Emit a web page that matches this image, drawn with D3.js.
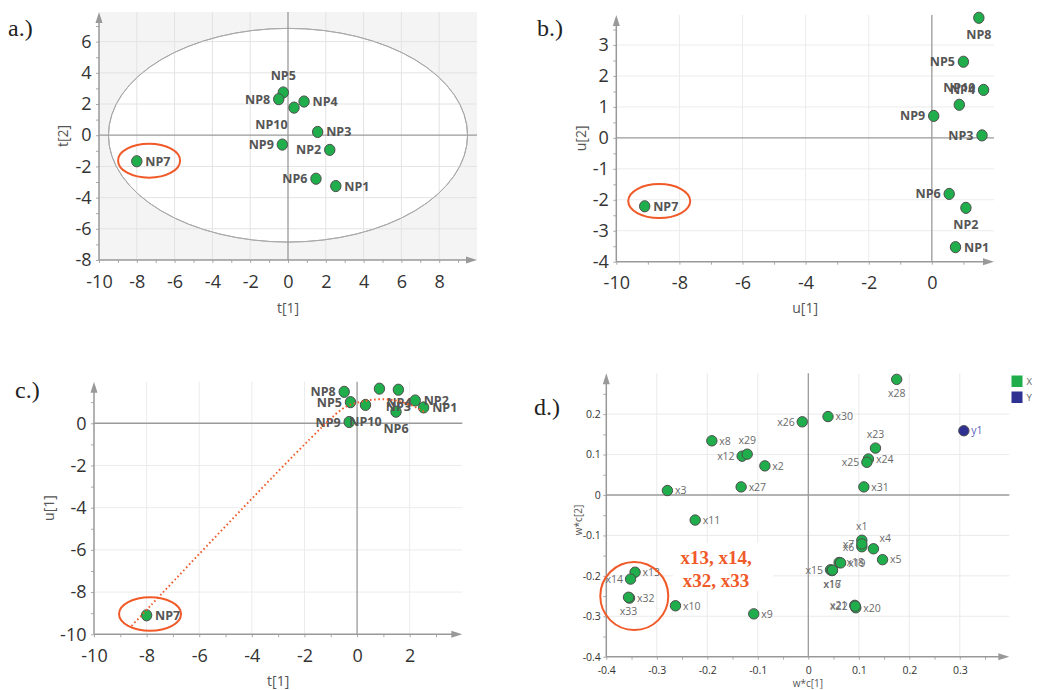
<!DOCTYPE html>
<html><head><meta charset="utf-8">
<script src="https://cdn.jsdelivr.net/npm/d3@7"></script>
<style>
body{margin:0;background:#fff;}
svg{display:block;}
</style></head><body>
<svg id="chart" width="1037" height="690"></svg>
<script>
// ---------- DATA ----------
const samples = ["NP1","NP2","NP3","NP4","NP5","NP6","NP7","NP8","NP9","NP10"];
const t1 = [2.53, 2.21, 1.57, 0.85, -0.25, 1.48, -8.00, -0.49, -0.30, 0.32];
const t2 = [-3.26, -0.94, 0.21, 2.16, 2.74, -2.79, -1.67, 2.31, -0.60, 1.77];
const u1 = [0.75, 1.08, 1.59, 1.64, 1.00, 0.55, -9.10, 1.49, 0.06, 0.87];
const u2 = [-3.53, -2.26, 0.08, 1.55, 2.46, -1.81, -2.21, 3.88, 0.71, 1.07];
const aLabelPos = ["R","L","R","R","T","L","R","L","L","BL"];
const bLabelPos = ["R","B","L","L","L","L","R","B","L","T"];
const cLabelPos = ["R","R","B","BR","L","B","R","L","L","B"];
const hotellingRx = 9.5, hotellingRy = 6.85;   // ellipse of panel a (t units)
// fitted trend of panel c (t[1], u[1])
const trendT = [-8.57, -0.70, -0.27, 0.10, 0.50, 1.00, 1.50, 2.00, 2.55];
const trendU = [-9.60, 0.55, 0.87, 1.00, 1.10, 1.14, 1.07, 0.88, 0.55];

const aXTicks = [-10,-8,-6,-4,-2,0,2,4,6,8];
const aYTicks = [-8,-6,-4,-2,0,2,4,6];
const bXTicks = [-10,-8,-6,-4,-2,0];
const bYTicks = [-4,-3,-2,-1,0,1,2,3];
const cXTicks = [-10,-8,-6,-4,-2,0,2];
const cYTicks = [-10,-8,-6,-4,-2,0];
const dXTicks = [-0.4,-0.3,-0.2,-0.1,0,0.1,0.2,0.3];
const dYTicks = [-0.4,-0.3,-0.2,-0.1,0,0.1,0.2];

const xVars = ["x1","x2","x3","x4","x5","x6","x7","x8","x9","x10","x11","x12","x13","x14","x15","x16","x17","x18","x19","x20","x21","x22","x23","x24","x25","x26","x27","x28","x29","x30","x31","x32","x33"];
const wc1 = [0.106,-0.086,-0.279,0.129,0.147,0.106,0.106,-0.191,-0.108,-0.263,-0.224,-0.131,-0.343,-0.352,0.044,0.047,0.048,0.061,0.064,0.094,0.092,0.093,0.133,0.119,0.116,-0.012,-0.133,0.175,-0.121,0.039,0.110,-0.354,-0.356];
const wc2 = [-0.112,0.072,0.011,-0.133,-0.160,-0.128,-0.121,0.134,-0.294,-0.274,-0.062,0.096,-0.191,-0.208,-0.185,-0.187,-0.186,-0.167,-0.168,-0.279,-0.273,-0.275,0.116,0.089,0.081,0.181,0.020,0.286,0.101,0.194,0.020,-0.255,-0.253];
const dLabelPos = ["T","R","R","TR","R","L","L","R","R","R","R","L","R","L","L","B","B","R","R","R","L","L","T","R","L","L","R","B","T","R","R","R","B"];
const yVars = ["y1"];
const yc1 = [0.308];
const yc2 = [0.159];
const legendItems = ["X","Y"];
const highlightText = ["x13, x14,", "x32, x33"];

// ---------- STYLE ----------
const GREEN = "#1fae4b", BLUE = "#2e3192", RED = "#f05a28";
const svg = d3.select("#chart");
svg.append("rect").attr("width",1037).attr("height",690).attr("fill","#fff");

const fmt = v => String(+v.toFixed(2));

function panel(o) {
  const x = d3.scaleLinear().domain(o.xd).range([o.L, o.R]);
  const y = d3.scaleLinear().domain(o.yd).range([o.B, o.T]);
  const g = svg.append("g");
  if (o.bg) g.append("rect").attr("x",o.L).attr("y",o.T).attr("width",o.R-o.L).attr("height",o.B-o.T).attr("fill",o.bg);
  if (o.ell) g.append("ellipse").attr("cx",x(0)).attr("cy",y(0))
      .attr("rx",x(o.ell[0])-x(0)).attr("ry",y(0)-y(o.ell[1]))
      .attr("fill","#fff").attr("stroke","#aaa").attr("stroke-width",1);
  // grid
  g.selectAll(null).data(o.xGrid).join("line")
    .attr("x1",d=>x(d)).attr("x2",d=>x(d)).attr("y1",o.T).attr("y2",o.B)
    .attr("stroke",o.gridColor||"#e6e6e6").attr("stroke-width",1);
  g.selectAll(null).data(o.yGrid).join("line")
    .attr("y1",d=>y(d)).attr("y2",d=>y(d)).attr("x1",o.L).attr("x2",o.R)
    .attr("stroke",o.gridColor||"#e6e6e6").attr("stroke-width",1);
  if (o.ell) g.append("ellipse").attr("cx",x(0)).attr("cy",y(0))
      .attr("rx",x(o.ell[0])-x(0)).attr("ry",y(0)-y(o.ell[1]))
      .attr("fill","none").attr("stroke","#a8a8a8").attr("stroke-width",1);
  // zero lines
  g.append("line").attr("x1",x(0)).attr("x2",x(0)).attr("y1",o.T).attr("y2",o.B).attr("stroke","#9a9a9a").attr("stroke-width",1.3);
  g.append("line").attr("y1",y(0)).attr("y2",y(0)).attr("x1",o.L).attr("x2",o.R).attr("stroke","#9a9a9a").attr("stroke-width",1.3);
  // axes
  const styleAxis = (sel, fs) => {
    sel.select(".domain").remove();
    sel.selectAll(".tick line").attr("stroke","#aaa");
    sel.selectAll(".tick text").attr("fill","#333").style("font-family","'Open Sans', sans-serif").style("font-size",fs+"px");
  };
  const xa = g.append("g").attr("transform",`translate(0,${o.B})`)
    .call(d3.axisBottom(x).tickValues(o.xTicks).tickSize(3).tickPadding(o.xPad).tickFormat(fmt));
  styleAxis(xa, o.fs);
  const ya = g.append("g").attr("transform",`translate(${o.L},0)`)
    .call(d3.axisLeft(y).tickValues(o.yTicks).tickSize(3).tickPadding(o.yPad).tickFormat(fmt));
  styleAxis(ya, o.fs);
  const xm = g.append("g").attr("transform",`translate(0,${o.B})`)
    .call(d3.axisBottom(x).tickValues(o.xMinor).tickSize(3).tickFormat(""));
  styleAxis(xm, o.fs);
  const ym = g.append("g").attr("transform",`translate(${o.L},0)`)
    .call(d3.axisLeft(y).tickValues(o.yMinor).tickSize(3).tickFormat(""));
  styleAxis(ym, o.fs);
  // axis lines with arrows
  g.append("line").attr("x1",o.L).attr("x2",o.R-6).attr("y1",o.B).attr("y2",o.B).attr("stroke","#999").attr("stroke-width",1.5);
  g.append("line").attr("x1",o.L).attr("x2",o.L).attr("y1",o.B).attr("y2",o.T+6).attr("stroke","#999").attr("stroke-width",1.5);
  g.append("path").attr("d",`M${o.R},${o.B} L${o.R-11},${o.B-3.5} L${o.R-11},${o.B+3.5} Z`).attr("fill","#999");
  g.append("path").attr("d",`M${o.L},${o.T} L${o.L-3.5},${o.T+11} L${o.L+3.5},${o.T+11} Z`).attr("fill","#999");
  // titles
  g.append("text").attr("x",(o.L+o.R)/2 + (o.xtDx||0)).attr("y",o.xtY).attr("text-anchor","middle")
    .attr("fill","#555").style("font-family","'Open Sans', sans-serif").style("font-size",o.tfs+"px").text(o.xTitle);
  g.append("text").attr("transform",`translate(${o.ytX},${(o.T+o.B)/2 + (o.ytDy||0)}) rotate(-90)`).attr("text-anchor","middle")
    .attr("fill","#555").style("font-family","'Open Sans', sans-serif").style("font-size",o.tfs+"px").text(o.yTitle);
  g.append("text").attr("x",o.letter[1]).attr("y",o.letter[2]).attr("fill","#222")
    .style("font-family","'Liberation Serif', 'Times New Roman', serif").style("font-size","24px").text(o.letter[0]);
  return {g,x,y};
}

function labelAttrs(sel, pos, cx, cy, h, v) {
  let X = cx, Y = cy, a = "middle";
  if (pos==="R") { X = cx+h; a="start"; }
  else if (pos==="L") { X = cx-h; a="end"; }
  else if (pos==="T") { Y = cy-v; }
  else if (pos==="B") { Y = cy+v; }
  else if (pos==="BL") { X = cx-6.5; Y = cy+v; a="end"; }
  else if (pos==="BR") { X = cx+7; Y = cy+14; a="start"; }
  else if (pos==="TR") { X = cx+6; Y = cy-11; a="start"; }
  sel.attr("x",X).attr("y",Y).attr("dy","0.36em").attr("text-anchor",a);
}

function samplePoints(p, xs, ys, pos) {
  const data = samples.map((n,i)=>({n, x:xs[i], y:ys[i], pos:pos[i]}));
  p.g.selectAll(null).data(data).join("ellipse")
    .attr("cx",d=>p.x(d.x)).attr("cy",d=>p.y(d.y)).attr("rx",5.2).attr("ry",5.6)
    .attr("fill",GREEN).attr("stroke","#4d4d4d").attr("stroke-width",1);
  p.g.selectAll(null).data(data).join("text")
    .each(function(d){ labelAttrs(d3.select(this), d.pos, p.x(d.x), p.y(d.y), 8.5, 17); })
    .attr("fill","#555").style("font-family","'Open Sans', sans-serif").style("font-weight","700").style("font-size","12.5px")
    .text(d=>d.n);
}

function highlight(p, cx, cy, rx, ry) {
  p.g.append("ellipse").attr("cx",p.x(cx)).attr("cy",p.y(cy)).attr("rx",rx).attr("ry",ry)
    .attr("fill","none").attr("stroke",RED).attr("stroke-width",2);
}

// ---------- PANEL A ----------
const pa = panel({L:99,R:477,T:12,B:260,xd:[-10,10.0],yd:[-8,7.9],bg:"#f4f4f4",ell:[hotellingRx,hotellingRy],
  gridColor:"#e3e3e3",
  xGrid:[-8,-6,-4,-2,2,4,6,8], yGrid:[-6,-4,-2,2,4,6],
  xTicks:aXTicks, yTicks:aYTicks, xMinor:d3.range(-9,10,2), yMinor:d3.range(-7,8,2),
  xPad:12, yPad:4.5, fs:18, tfs:14,
  xTitle:"t[1]", yTitle:"t[2]", xtY:313, ytX:68, ytDy:0, xtDx:0, letter:["a.)",8,36]});
samplePoints(pa, t1, t2, aLabelPos);
highlight(pa, -7.35, -1.63, 31, 17);

// ---------- PANEL B ----------
const pb = panel({L:616.3,R:994,T:15,B:261.7,xd:[-10,1.97],yd:[-4,3.97],
  gridColor:"#ececec",
  xGrid:[-8,-6,-4,-2], yGrid:[-3,-2,-1,1,2,3],
  xTicks:bXTicks, yTicks:bYTicks, xMinor:d3.range(-9,2,2), yMinor:d3.range(-3.5,4,1),
  xPad:12, yPad:4.5, fs:18, tfs:14,
  xTitle:"u[1]", yTitle:"u[2]", xtY:313, ytX:586, letter:["b.)",537,36]});
samplePoints(pb, u1, u2, bLabelPos);
highlight(pb, -8.64, -2.04, 31, 17);

// ---------- PANEL C ----------
const pc = panel({L:94,R:462.3,T:381.7,B:634.3,xd:[-10,4],yd:[-10,1.97],
  gridColor:"#ececec",
  xGrid:[-8,-6,-4,-2,2], yGrid:[-8,-6,-4,-2],
  xTicks:cXTicks, yTicks:cYTicks, xMinor:d3.range(-9,4,2), yMinor:d3.range(-9,2,2),
  xPad:11.5, yPad:4.5, fs:18, tfs:14,
  xTitle:"t[1]", yTitle:"u[1]", xtY:685.5, xtDx:0, ytX:54, ytDy:0, letter:["c.)",15,398]});
const trend = trendT.map((t,i)=>[t, trendU[i]]);
samplePoints(pc, t1, u1, cLabelPos);
pc.g.append("path").datum(trend)
  .attr("d", d3.line().x(d=>pc.x(d[0])).y(d=>pc.y(d[1])).curve(d3.curveCatmullRom.alpha(0.5)))
  .attr("fill","none").attr("stroke",RED).attr("stroke-width",1.9).attr("stroke-dasharray","1.6,2.6");
highlight(pc, -7.87, -9.04, 31, 16.7);

// ---------- PANEL D ----------
const pd = panel({L:606.3,R:1009.3,T:373.3,B:656.7,xd:[-0.4,0.398],yd:[-0.4,0.301],
  gridColor:"#eaeaea",
  xGrid:[-0.3,-0.2,-0.1,0.1,0.2,0.3], yGrid:[-0.3,-0.2,-0.1,0.1,0.2],
  xTicks:dXTicks, yTicks:dYTicks, xMinor:d3.range(-0.35,0.4,0.1), yMinor:d3.range(-0.35,0.3,0.1),
  xPad:6.5, yPad:2.5, fs:10.5, tfs:10,
  xTitle:"w*c[1]", yTitle:"w*c[2]", xtY:687, xtDx:0, ytX:582, ytDy:5, letter:["d.)",534,415]});
// white box behind annotation
pd.g.append("rect").attr("x",673).attr("y",543).attr("width",100).attr("height",48).attr("fill","#fff");
const dData = xVars.map((n,i)=>({n, x:wc1[i], y:wc2[i], pos:dLabelPos[i], t:"X"}))
  .concat(yVars.map((n,i)=>({n, x:yc1[i], y:yc2[i], pos:"R", t:"Y"})));
pd.g.selectAll(null).data(dData).join("circle")
  .attr("cx",d=>pd.x(d.x)).attr("cy",d=>pd.y(d.y)).attr("r",5.2)
  .attr("fill",d=>d.t==="X"?GREEN:BLUE).attr("stroke","#4d4d4d").attr("stroke-width",1);
pd.g.selectAll(null).data(dData).join("text")
  .each(function(d){ labelAttrs(d3.select(this), d.pos, pd.x(d.x), pd.y(d.y), 7.5, 14); })
  .attr("fill",d=>d.t==="X"?"#6a6a6a":"#5a5fc0")
  .style("font-family","'Liberation Sans Narrow', 'Open Sans', sans-serif").style("font-size","10.5px")
  .text(d=>d.n);
// annotation
pd.g.selectAll(null).data(highlightText).join("text")
  .attr("x",716).attr("y",(d,i)=>564+i*22.5).attr("text-anchor","middle")
  .attr("fill",RED).style("font-family","'Liberation Serif', 'Times New Roman', serif")
  .style("font-weight","700").style("font-size","19px").text(d=>d);
pd.g.append("circle").attr("cx",pd.x(-0.3446)).attr("cy",pd.y(-0.25)).attr("r",34)
  .attr("fill","none").attr("stroke",RED).attr("stroke-width",2);
// legend
const lg = pd.g.selectAll(null).data(legendItems).join("g")
  .attr("transform",(d,i)=>`translate(1011.5,${375.5+i*16})`);
lg.append("rect").attr("width",11).attr("height",11.5).attr("fill",d=>d==="X"?GREEN:BLUE);
lg.append("text").attr("x",15).attr("y",6).attr("dy","0.36em").attr("fill","#666")
  .style("font-family","'Open Sans', sans-serif").style("font-size","9.5px").text(d=>d);
</script>
</body></html>
